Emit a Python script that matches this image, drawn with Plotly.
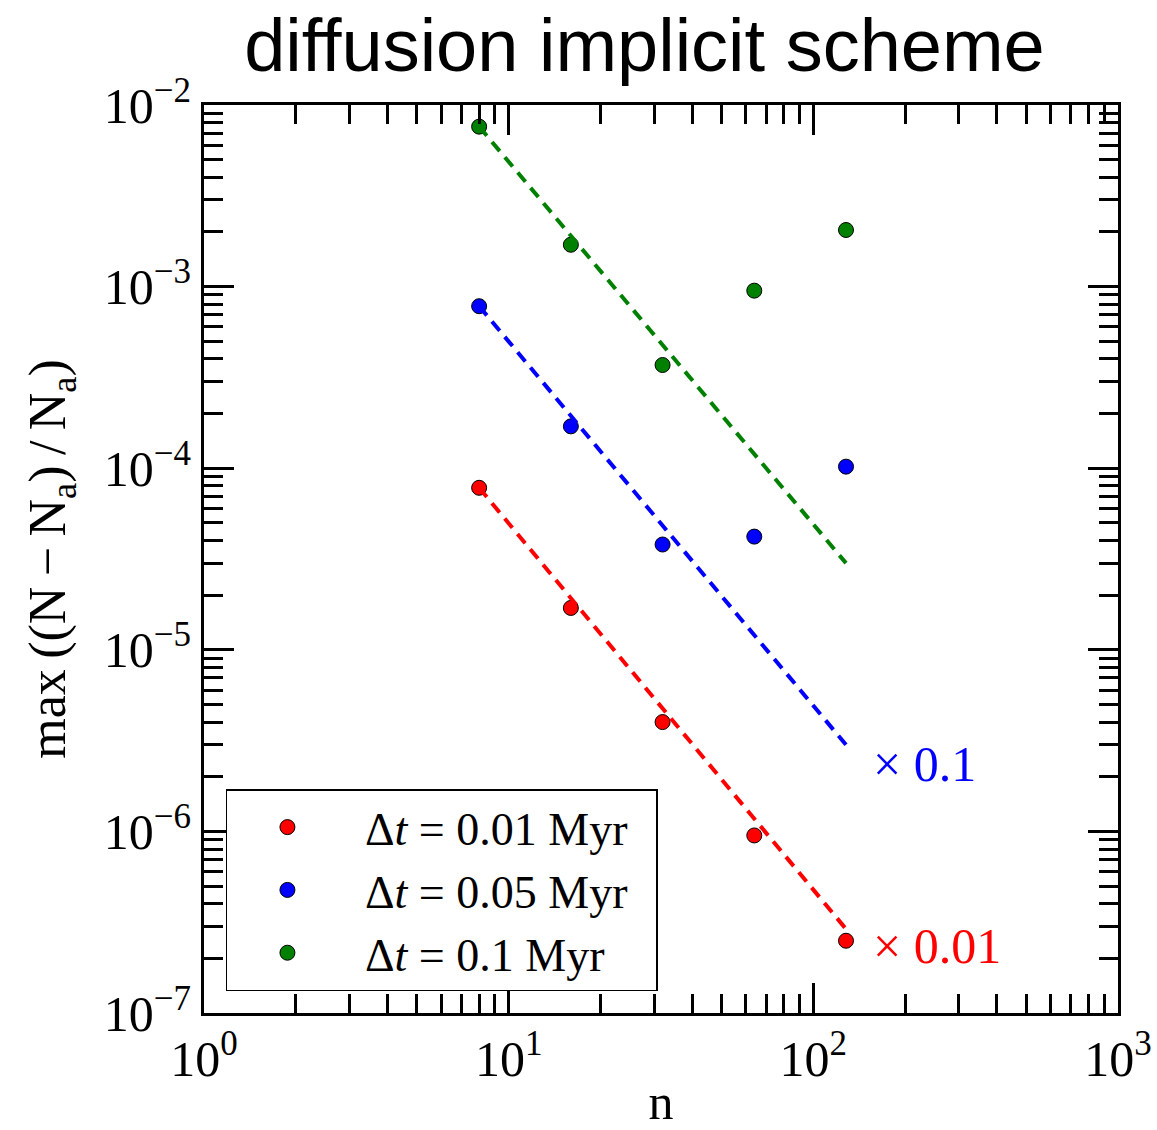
import plotly.graph_objects as go

# resolution n and max relative error for three time steps
n = [8, 16, 32, 64, 128]
err_dt001 = [7.8e-5, 1.7e-5, 4.0e-6, 9.5e-7, 2.5e-7]
err_dt005 = [7.8e-4, 1.7e-4, 3.8e-5, 4.2e-5, 1.02e-4]
err_dt01 = [7.6e-3, 1.7e-3, 3.7e-4, 9.5e-4, 2.05e-3]

# n^-2 reference slopes (endpoints)
ref_n = [8, 128]
ref_dt001 = [7.8e-5, 2.9e-7]
ref_dt005 = [7.8e-4, 3.0e-6]
ref_dt01 = [7.6e-3, 3.0e-5]

labels = ["Δ<i>t</i> = 0.01 Myr", "Δ<i>t</i> = 0.05 Myr", "Δ<i>t</i> = 0.1 Myr"]
colors = ["#ff0000", "#0000ff", "#008000"]

x_ticks = [1, 10, 100, 1000]
x_ticktext = ["10<sup>0</sup>", "10<sup>1</sup>", "10<sup>2</sup>", "10<sup>3</sup>"]
y_ticks = [1e-7, 1e-6, 1e-5, 1e-4, 1e-3, 1e-2]
y_ticktext = ["10<sup>−7</sup>", "10<sup>−6</sup>", "10<sup>−5</sup>",
              "10<sup>−4</sup>", "10<sup>−3</sup>", "10<sup>−2</sup>"]

SERIF = "Liberation Serif, DejaVu Serif, serif"

fig = go.Figure()

for err, lab, col in zip([err_dt001, err_dt005, err_dt01], labels, colors):
    fig.add_trace(go.Scatter(
        x=n, y=err, mode="markers",
        name="\u00a0\u00a0\u00a0\u00a0\u00a0" + lab + "\u00a0\u00a0",
        marker=dict(color=col, size=15, line=dict(color="black", width=1)),
    ))
for ref, col in zip([ref_dt001, ref_dt005, ref_dt01], colors):
    fig.add_trace(go.Scatter(
        x=ref_n, y=ref, mode="lines", showlegend=False,
        line=dict(color=col, width=4, dash="12px,8px"),
    ))

minor_x = [m * 10 ** k for k in range(0, 3) for m in range(2, 10)]
minor_y = [m * 10.0 ** k for k in range(-7, -2) for m in range(2, 10)]

axis_common = dict(
    type="log", showgrid=False, zeroline=False, automargin=False,
    showline=True, linecolor="black", linewidth=3, mirror="ticks",
    ticks="inside", ticklen=30, tickwidth=2.5, tickcolor="black",
    tickmode="array",
    tickfont=dict(family=SERIF, size=50, color="black"),
)

fig.update_xaxes(
    **axis_common, range=[0, 3], tickvals=x_ticks, ticktext=x_ticktext,
    minor=dict(ticks="inside", ticklen=19, tickwidth=2.5, tickcolor="black",
               tickmode="array", tickvals=minor_x, showgrid=False),
    title=dict(text="n", font=dict(family=SERIF, size=50, color="black"), standoff=24),
)
fig.update_yaxes(
    **axis_common, range=[-7, -2], tickvals=y_ticks, ticktext=y_ticktext,
    minor=dict(ticks="inside", ticklen=19, tickwidth=2.5, tickcolor="black",
               tickmode="array", tickvals=minor_y, showgrid=False),
    title=dict(text="max\u2009((N\u2009−\u2009N<sub>a</sub>)\u2009/\u2009N<sub>a</sub>)",
               font=dict(family=SERIF, size=52, color="black"), standoff=22),
)

fig.add_annotation(x=2.19, y=-5.63, xref="x", yref="y", text="× 0.1",
                   showarrow=False, xanchor="left", yanchor="middle",
                   font=dict(family=SERIF, size=50, color="#0000ff"))
fig.add_annotation(x=2.19, y=-6.63, xref="x", yref="y", text="× 0.01",
                   showarrow=False, xanchor="left", yanchor="middle",
                   font=dict(family=SERIF, size=50, color="#ff0000"))

fig.update_layout(
    width=1157, height=1130,
    margin=dict(l=204, r=39, t=105, b=117, autoexpand=False),
    paper_bgcolor="white", plot_bgcolor="white",
    title=dict(text="diffusion implicit scheme", x=0.557, xanchor="center",
               y=0.96, yanchor="middle", automargin=False,
               font=dict(family="Liberation Sans, Arial, sans-serif", size=74, color="black")),
    legend=dict(x=0.024, y=0.024, xanchor="left", yanchor="bottom",
                bgcolor="white", bordercolor="black", borderwidth=1.5,
                font=dict(family=SERIF, size=46, color="black"),
                indentation=40,
                tracegroupgap=0, itemsizing="trace"),
    showlegend=True,
)

fig.write_html("out.html")
